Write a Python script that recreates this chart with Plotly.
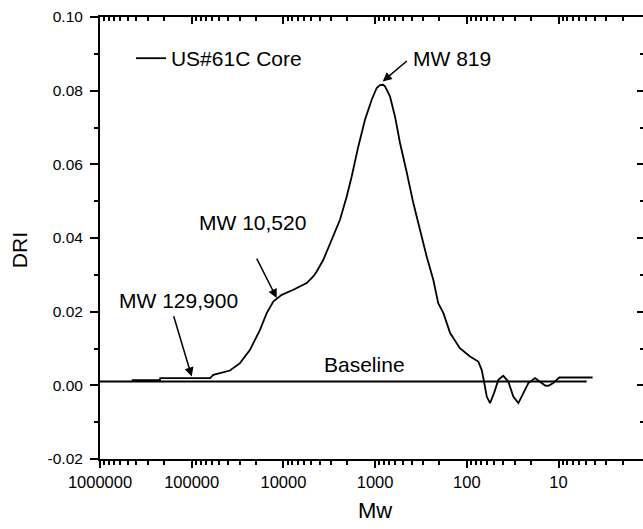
import plotly.graph_objects as go

# Data
mw = [451000, 222000, 220000, 63100, 58100, 38230, 29730, 23130, 17990, 15210,
      12890, 10430, 7800, 6590, 5570, 4720, 4330, 3670, 2857, 2415, 2040, 1800,
      1524, 1289, 1089, 961, 885, 819, 780, 688, 607, 535, 452, 383, 324, 274,
      232, 205, 180, 152, 119, 92.2, 74.9, 68.8, 64.9, 60.6, 55.8, 50.5, 45.3,
      40.0, 35.3, 31.1, 27.4, 24.2, 21.3, 18.0, 15.9, 14.0, 12.9, 11.4, 10.5,
      9.8, 4.25]
dri = [0.00141, 0.00141, 0.00196, 0.00196, 0.00285, 0.00402, 0.00603, 0.00964,
       0.01507, 0.01961, 0.02276, 0.02458, 0.02594, 0.02683, 0.02776, 0.02955,
       0.03091, 0.03408, 0.04041, 0.04495, 0.05128, 0.05671, 0.06486, 0.07211,
       0.07754, 0.08072, 0.0815, 0.08161, 0.08115, 0.07844, 0.07300, 0.06578,
       0.05785, 0.04948, 0.04223, 0.03498, 0.02865, 0.02232, 0.01961, 0.01418,
       0.01010, 0.00782, 0.00646, 0.00421, 0.00103, -0.00304, -0.00483,
       -0.00212, 0.00149, 0.00258, 0.00103, -0.00304, -0.00483, -0.00212,
       0.00060, 0.00196, 0.00103, -0.00005, -0.00014, 0.00060, 0.00149,
       0.00212, 0.00212]
baseline_mw = [1000000, 4.93]
baseline_dri = [0.00103, 0.00103]

y_tickvals = [-0.02, 0.00, 0.02, 0.04, 0.06, 0.08, 0.10]
y_ticktext = ["-0.02", "0.00", "0.02", "0.04", "0.06", "0.08", "0.10"]

FONT = "Liberation Sans, Arial, sans-serif"
XR = [6, 0.0785]
YR = [-0.02, 0.10]

fig = go.Figure()
fig.add_trace(go.Scatter(x=mw, y=dri, mode="lines", name="US#61C Core",
                         line=dict(color="black", width=1.8)))
fig.add_trace(go.Scatter(x=baseline_mw, y=baseline_dri, mode="lines",
                         showlegend=False, line=dict(color="black", width=2)))
# helper trace to activate mirrored axes
fig.add_trace(go.Scatter(x=baseline_mw, y=baseline_dri, mode="lines", xaxis="x2", yaxis="y2",
                         showlegend=False, hoverinfo="skip", opacity=0,
                         line=dict(width=0)))

xminor_out = dict(ticks="outside", ticklen=4, tickwidth=1.5, tickcolor="black",
                  showgrid=False, dtick="D1")
xminor_in = dict(ticks="inside", ticklen=4, tickwidth=1.5, tickcolor="black",
                 showgrid=False, dtick="D1")

fig.update_layout(
    width=643, height=529,
    margin=dict(l=100, r=0, t=17, b=70),
    paper_bgcolor="white", plot_bgcolor="white",
    font=dict(family=FONT, color="black"),
    showlegend=True,
    legend=dict(x=0.057, y=0.906, xanchor="left", yanchor="middle",
                bgcolor="rgba(0,0,0,0)", font=dict(size=21)),
    xaxis=dict(type="log", range=XR, showgrid=False, zeroline=False,
               showline=True, linecolor="black", linewidth=2,
               ticks="outside", ticklen=7, tickwidth=2, tickcolor="black",
               dtick=1, tickformat="d", exponentformat="none",
               tickfont=dict(size=16.5), minor=xminor_out),
    xaxis2=dict(type="log", range=XR, overlaying="x", side="top", anchor="y",
                showgrid=False, zeroline=False, showline=True, linecolor="black", linewidth=2,
                ticks="inside", ticklen=7, tickwidth=2, tickcolor="black",
                dtick=1, showticklabels=False, minor=xminor_in),
    yaxis=dict(range=YR, showgrid=False, zeroline=False, showline=True,
               linecolor="black", linewidth=2,
               ticks="outside", ticklen=8, tickwidth=2, tickcolor="black",
               tickvals=y_tickvals, ticktext=y_ticktext, tickfont=dict(size=15.5),
               ticklabelstandoff=4,
               minor=dict(ticks="outside", ticklen=4, tickwidth=1.5, tickcolor="black",
                          tick0=0, dtick=0.01)),
    yaxis2=dict(range=YR, overlaying="y", side="right", anchor="x",
                showgrid=False, zeroline=False, showline=False,
                ticks="inside", ticklen=6, tickwidth=2, tickcolor="black",
                tickvals=y_tickvals, showticklabels=False,
                minor=dict(ticks="inside", ticklen=3, tickwidth=1.5, tickcolor="black",
                           tick0=0, dtick=0.01)),
)

ann_font = dict(family=FONT, size=21, color="black")
texts = [("MW 819", 2.156, 0.0887), ("MW 10,520", 4.338, 0.04427),
         ("MW 129,900", 5.141, 0.0230), ("Baseline", 3.121, 0.00557)]
for t, xx, yy in texts:
    fig.add_annotation(x=xx, y=yy, xref="x", yref="y", text=t, showarrow=False,
                       font=ann_font, xanchor="center", yanchor="middle")

arrows = [(2.638, 0.0884, 2.917, 0.0825), (4.299, 0.03482, 4.073, 0.02368),
          (5.201, 0.01915, 5.0, 0.00239)]
for tx, ty, hx, hy in arrows:
    fig.add_annotation(x=hx, y=hy, ax=tx, ay=ty, xref="x", yref="y", axref="x", ayref="y",
                       text="", showarrow=True, arrowhead=2, arrowsize=1.2,
                       arrowwidth=1.5, arrowcolor="black", standoff=0)

fig.add_annotation(x=-0.148, y=(459 - 250.7) / (459 - 17.3), xref="paper", yref="paper",
                   text="DRI", showarrow=False, textangle=-90,
                   font=dict(family=FONT, size=21), xanchor="center", yanchor="middle")
fig.add_annotation(x=0.507, y=-(510 - 459) / (459 - 17.3), xref="paper", yref="paper",
                   text="Mw", showarrow=False, font=dict(family=FONT, size=22),
                   xanchor="center", yanchor="middle")

fig.write_html("out.html")
